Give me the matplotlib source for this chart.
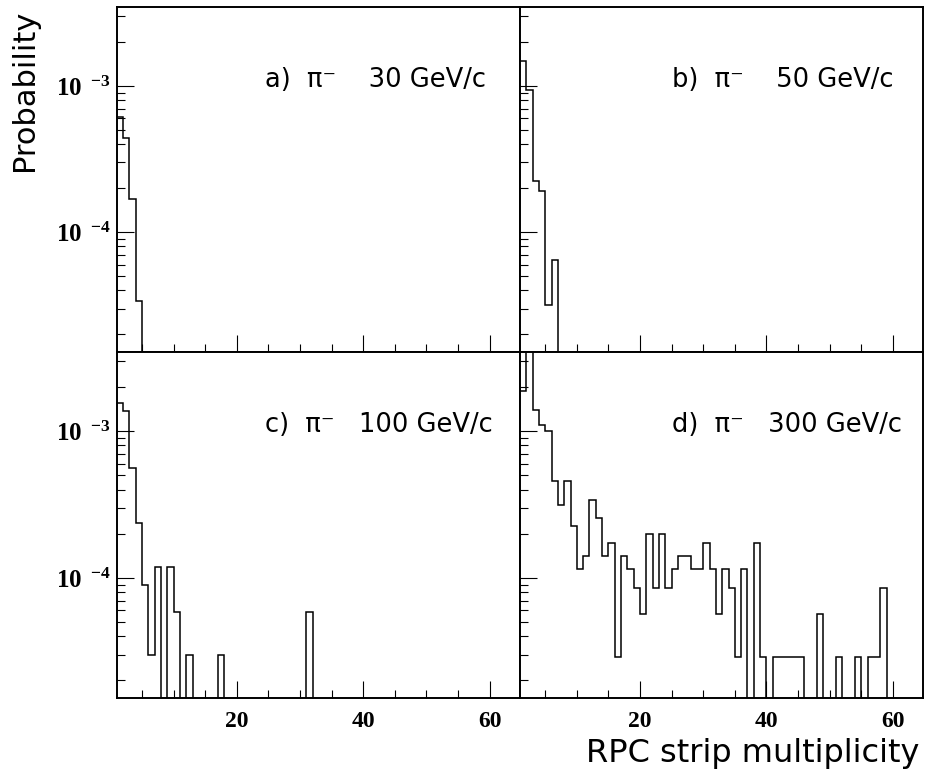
import numpy as np
import matplotlib
matplotlib.use("Agg")
import matplotlib.pyplot as plt
from matplotlib.ticker import MultipleLocator, LogLocator, NullFormatter, FuncFormatter

plt.rcParams['mathtext.fontset'] = 'custom'
plt.rcParams['mathtext.rm'] = 'Liberation Serif:bold'
plt.rcParams['mathtext.bf'] = 'Liberation Serif:bold'
plt.rcParams['font.family'] = ['DejaVu Sans']

# bins de largura 1, de 1 a 65
edges = np.arange(1, 66)

# probabilidade por bin, comecando na multiplicidade 1 (resto = 0)
prob_30 = [6.1e-4, 4.4e-4, 1.7e-4, 3.4e-5]
prob_50 = [1.47e-3, 9.4e-4, 2.24e-4, 1.92e-4, 3.2e-5, 6.5e-5]
prob_100 = [1.55e-3, 1.38e-3, 5.64e-4, 2.37e-4, 8.9e-5, 3.0e-5, 1.19e-4, 0,
            1.19e-4, 5.9e-5, 0, 3.0e-5, 0, 0, 0, 0, 3.0e-5,
            0, 0, 0, 0, 0, 0, 0, 0, 0, 0, 0, 0, 0, 5.9e-5]
prob_300 = [1.88e-3, 3.9e-3, 1.39e-3, 1.11e-3, 1.0e-3, 4.57e-4, 3.16e-4, 4.57e-4,
            2.27e-4, 1.15e-4, 1.42e-4, 3.42e-4, 2.56e-4, 1.42e-4, 1.72e-4, 2.9e-5,
            1.42e-4, 1.15e-4, 8.6e-5, 5.7e-5, 2.0e-4, 8.6e-5, 2.0e-4, 8.6e-5,
            1.15e-4, 1.42e-4, 1.42e-4, 1.15e-4, 1.15e-4, 1.72e-4, 1.15e-4, 5.7e-5,
            1.15e-4, 8.6e-5, 2.9e-5, 1.15e-4, 0, 1.72e-4, 2.9e-5, 0,
            2.9e-5, 2.9e-5, 2.9e-5, 2.9e-5, 2.9e-5, 0, 0, 5.7e-5,
            0, 0, 2.9e-5, 0, 0, 2.9e-5, 0, 2.9e-5, 2.9e-5, 8.6e-5]

series = [prob_30, prob_50, prob_100, prob_300]
labels = ["a)  π⁻    30 GeV/c", "b)  π⁻    50 GeV/c",
          "c)  π⁻   100 GeV/c", "d)  π⁻   300 GeV/c"]

fig = plt.figure(figsize=(9.27, 7.73), dpi=100)

w = 0.435
boxes = [(0.1259, 0.5442, w, 0.4464), (0.5609, 0.5442, w, 0.4464),
         (0.1259, 0.0966, w, 0.4476), (0.5609, 0.0966, w, 0.4476)]


def fmt_y(v, pos):
    e = int(round(np.log10(v)))
    return r'$\mathbf{10^{\;\;{%d}}}$' % e


for i in range(4):
    ax = fig.add_axes(boxes[i])
    vals = np.zeros(len(edges) - 1)
    vals[:len(series[i])] = series[i]
    vals = np.where(vals > 0, vals, 1e-9)
    ax.stairs(vals, edges, baseline=None, color='black', lw=1.1)

    ax.set_yscale('log')
    ax.set_xlim(1, 64.8)
    ax.set_ylim(1.51e-5, 3.45e-3)

    ax.xaxis.set_major_locator(MultipleLocator(20))
    ax.xaxis.set_minor_locator(MultipleLocator(5))
    ax.yaxis.set_major_locator(LogLocator(base=10))
    ax.yaxis.set_minor_locator(LogLocator(base=10, subs=np.arange(2, 10)))
    ax.yaxis.set_minor_formatter(NullFormatter())

    ax.tick_params(which='both', direction='in', top=False, right=False, width=0.8)
    ax.tick_params(which='major', length=12)
    ax.tick_params(which='minor', length=6)
    ax.tick_params(axis='y', labelsize=18, pad=4)
    ax.tick_params(axis='x', labelsize=17, pad=9)

    if i % 2 == 0:
        ax.yaxis.set_major_formatter(FuncFormatter(fmt_y))
    else:
        ax.set_yticklabels([])
    if i < 2:
        ax.set_xticklabels([])
    else:
        for t in ax.get_xticklabels():
            t.set_fontfamily('Liberation Serif')
            t.set_fontweight('bold')

    for s in ax.spines.values():
        s.set_linewidth(1.4)

    tx = 0.368 if i % 2 == 0 else 0.377
    ax.text(tx, 0.789, labels[i], transform=ax.transAxes, ha='left', va='center',
            fontsize=18.5)

fig.text(25 / 927, 1 - 10 / 773, 'Probability', rotation=90, ha='center', va='top',
         fontsize=22)
fig.text(920 / 927, 4 / 773, 'RPC strip multiplicity', ha='right', va='bottom',
         fontsize=23)

fig.savefig('out.png', dpi=100)
